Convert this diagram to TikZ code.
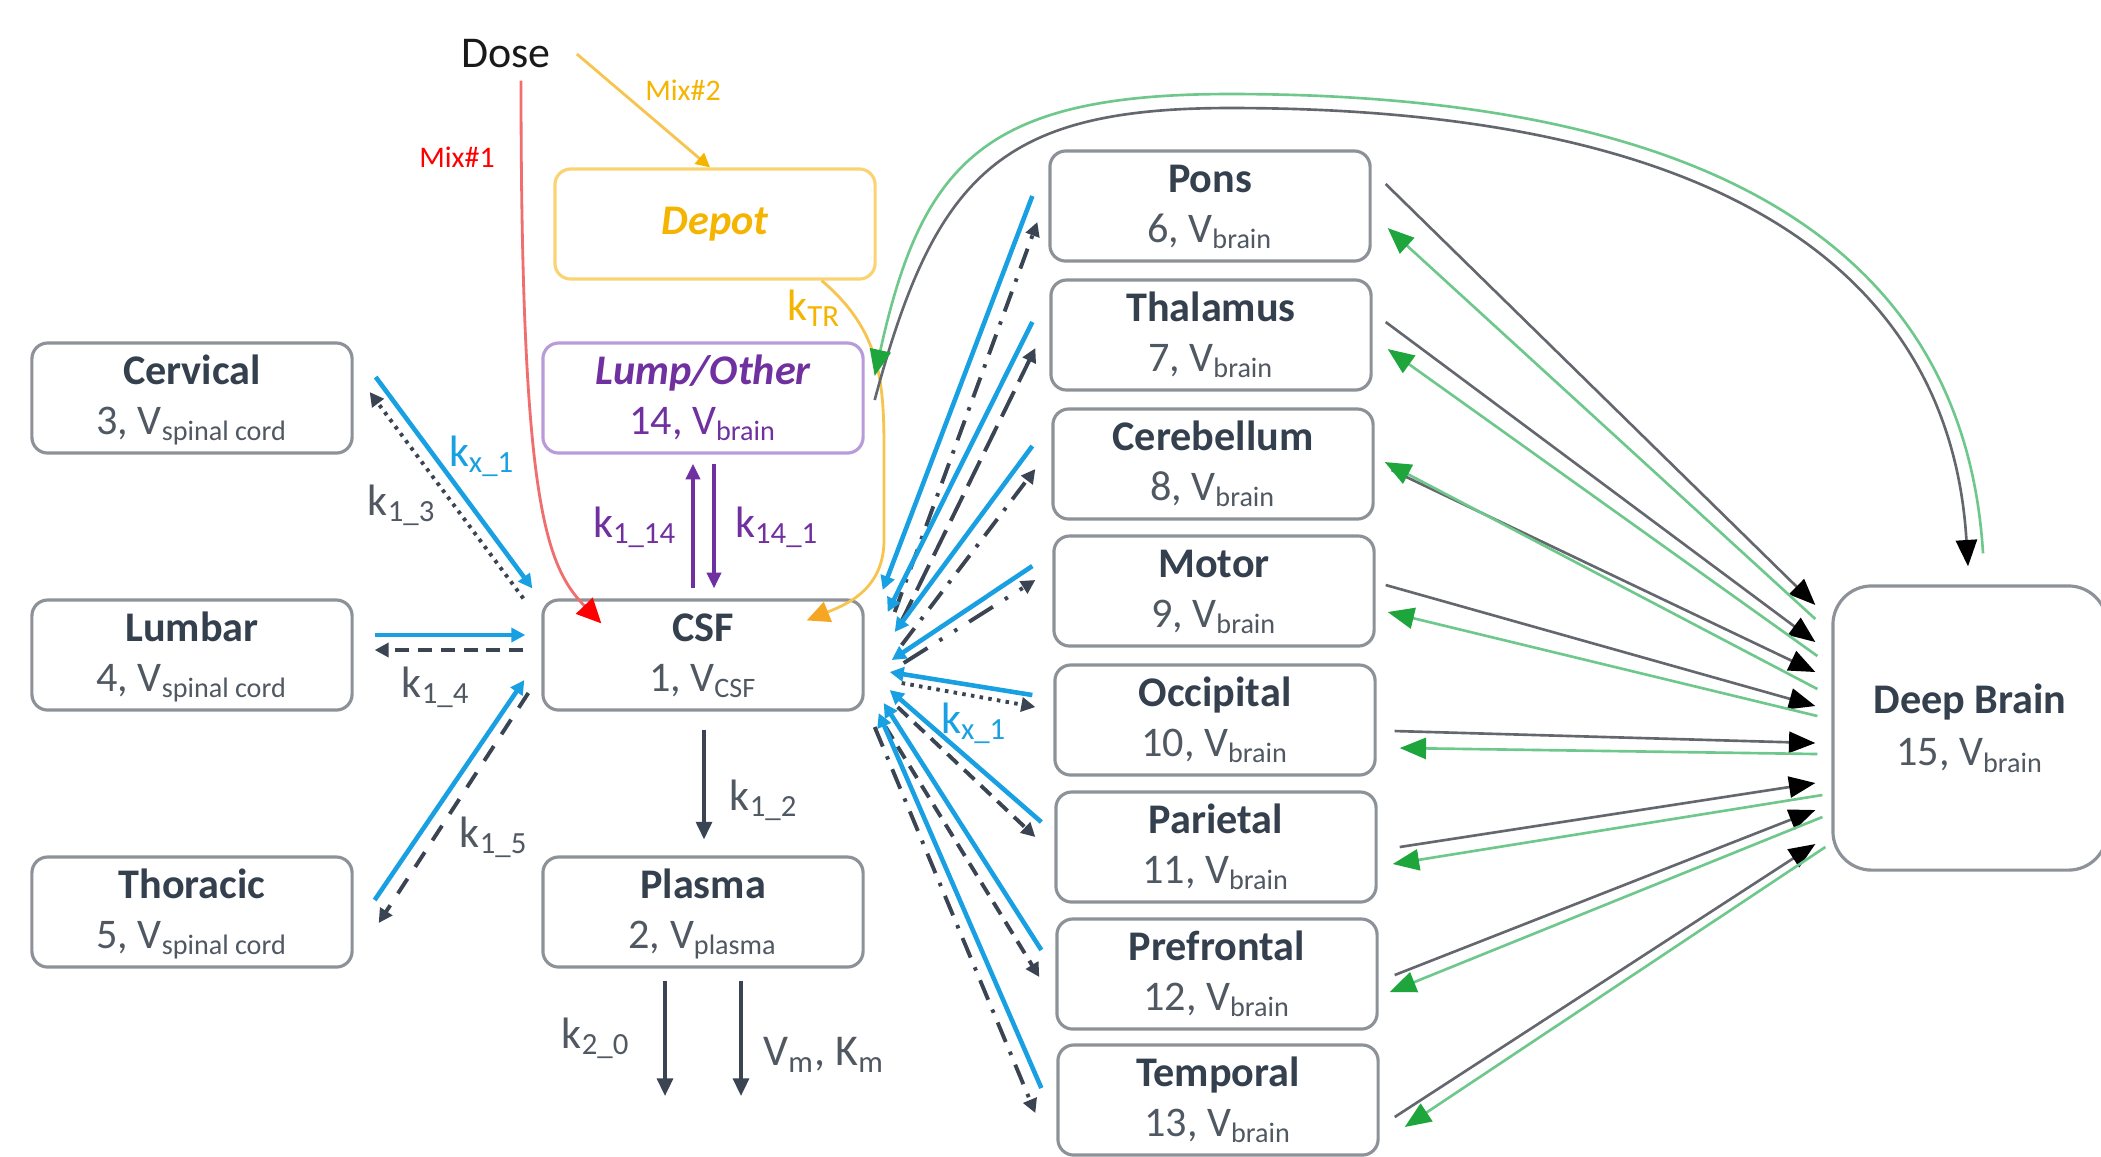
\documentclass[tikz,border=0pt]{standalone}
\usepackage{fontspec}
\setmainfont{Carlito}
\usetikzlibrary{arrows.meta,calc}

\definecolor{boxgray}{RGB}{140,146,152}
\definecolor{titlec}{RGB}{52,64,78}
\definecolor{subc}{RGB}{80,88,98}
\definecolor{kblue}{RGB}{24,160,226}
\definecolor{darkc}{RGB}{58,68,82}
\definecolor{lgray}{RGB}{100,104,110}
\definecolor{gline}{RGB}{110,200,140}
\definecolor{ghead}{RGB}{30,165,60}
\definecolor{purp}{RGB}{112,48,160}
\definecolor{purpb}{RGB}{185,155,218}
\definecolor{gold}{RGB}{245,180,0}
\definecolor{goldl}{RGB}{250,212,115}
\definecolor{goldc}{RGB}{247,196,80}
\definecolor{orangeh}{RGB}{245,166,35}
\definecolor{redl}{RGB}{240,110,110}

\newcommand\ssb[1]{\textsubscript{#1}}
\newcommand\toprl{\rule{0pt}{11.5pt}}
\newcommand\botrl{\rule[-5pt]{0pt}{5pt}}
\newcommand\twol[2]{\toprl{\bfseries\color{titlec}#1}\\#2\botrl}

\begin{document}
\begin{tikzpicture}[x=0.01cm,y=-0.01cm,
  cbox/.style={draw=boxgray,line width=0.9pt,rounded corners=4.5pt,
    minimum width=3.2cm,minimum height=1.1cm,align=center,inner sep=0pt,
    font=\fontsize{12}{14.2}\selectfont,text=subc},
  klab/.style={font=\fontsize{12.5}{14}\selectfont,text=subc,inner sep=1pt},
  mixlab/.style={font=\fontsize{8.5}{10}\selectfont,inner sep=1pt},
  bluear/.style={kblue,line width=1.3pt,-{Triangle[length=4pt,width=4pt]}},
  darkar/.style={darkc,line width=1.1pt,-{Triangle[length=4pt,width=4pt]}},
  kar/.style={darkc,line width=1pt,-{Triangle[length=5pt,width=4.5pt]}},
  purpar/.style={purp,line width=1.1pt,-{Triangle[length=4.5pt,width=4pt]}},
  grayar/.style={lgray,line width=0.75pt,-{Triangle[length=7.5pt,width=6pt,color=black]}},
  greenar/.style={gline,line width=0.75pt,-{Triangle[length=7.5pt,width=6pt,color=ghead]}},
  pdashdot/.style={dash pattern=on 6pt off 3pt on 1pt off 3pt},
  plongdash/.style={dash pattern=on 8pt off 3pt},
  pdashdotdot/.style={dash pattern=on 8pt off 4pt on 1pt off 4pt on 1pt off 4pt},
  pdotted/.style={dash pattern=on 1pt off 1.5pt},
  pdashed/.style={dash pattern=on 4pt off 2.5pt},
]
\useasboundingbox (0,0) rectangle (2101,1156);
\fill[white] (0,0) rectangle (2101,1156);
\clip (0,0) rectangle (2101,1156);

% ---- boxes ----
\node[cbox] (cerv) at (192,398) {\twol{Cervical}{3, V\ssb{spinal cord}}};
\node[cbox] (lumb) at (192,655) {\twol{Lumbar}{4, V\ssb{spinal cord}}};
\node[cbox] (thor) at (192,912) {\twol{Thoracic}{5, V\ssb{spinal cord}}};
\node[cbox,draw=purpb,text=purp] (lump) at (703,398)
  {\toprl{\bfseries\itshape Lump/Other}\\14, V\ssb{brain}\botrl};
\node[cbox,draw=goldl,text=gold] (depot) at (715,224) {\bfseries\itshape Depot};
\node[cbox] (csf) at (703,655) {\twol{CSF}{1, V\ssb{CSF}}};
\node[cbox] (plasma) at (703,912) {\twol{Plasma}{2, V\ssb{plasma}}};

\node[cbox] (pons) at (1210,206) {\twol{Pons}{6, V\ssb{brain}}};
\node[cbox] (thal) at (1211,335) {\twol{Thalamus}{7, V\ssb{brain}}};
\node[cbox] (cereb) at (1213,464) {\twol{Cerebellum}{8, V\ssb{brain}}};
\node[cbox] (motor) at (1214,591) {\twol{Motor}{9, V\ssb{brain}}};
\node[cbox] (occip) at (1215,720) {\twol{Occipital}{10, V\ssb{brain}}};
\node[cbox] (pariet) at (1216,847) {\twol{Parietal}{11, V\ssb{brain}}};
\node[cbox] (prefr) at (1217,974) {\twol{Prefrontal}{12, V\ssb{brain}}};
\node[cbox] (temp) at (1218,1100) {\twol{Temporal}{13, V\ssb{brain}}};
\node[cbox,minimum width=2.74cm,minimum height=2.84cm,rounded corners=11pt,
  font=\fontsize{12}{15}\selectfont] (deep) at (1970,728)
  {\twol{Deep Brain}{15, V\ssb{brain}}};

% ---- dose ----
\node[font=\fontsize{12.5}{14}\selectfont,inner sep=1pt,text=black!90] (dose) at (506,54) {Dose};
\node[mixlab,text=red] (mix1) at (457,157) {Mix\#1};
\node[mixlab,text=gold] (mix2) at (683,90) {Mix\#2};

\draw[redl,line width=0.8pt,-{Triangle[length=7pt,width=6.5pt,color=red]}]
  ($(dose.south)+(15,8)$) .. controls (521,500) and (545,565) .. ($(csf.north west)+(60,25)$);
\draw[goldc,line width=0.8pt,-{Triangle[length=4pt,width=4pt,color=gold]}]
  ($(dose.east)+(22,0)$) -- ($(depot.north)+(-5,0)$);
\draw[goldc,line width=0.8pt,-{Triangle[length=6.5pt,width=6pt,color=orangeh]}]
  ($(depot.south east)+(-55,0)$) .. controls (880,330) and (884,380) .. (884,450)
  -- (884,540) .. controls (884,590) and (845,605) .. ($(csf.north east)+(-58,22)$);
\node[klab,text=gold] (ktr) at (814,308) {k\ssb{TR}};

% ---- left side ----
\draw[bluear] ($(cerv.east)+(22,-21)$) -- ($(csf.north west)+(-9,-10)$);
\draw[darkar,pdotted] ($(csf.north west)+(-18,0)$) -- ($(cerv.east)+(16,-6)$);
\draw[bluear] ($(lumb.east)+(21,-20)$) -- ($(csf.west)+(-16,-20)$);
\draw[darkar,pdashed] ($(csf.west)+(-18,-5)$) -- ($(lumb.east)+(21,-5)$);
\draw[bluear] ($(thor.east)+(21,-12)$) -- ($(csf.west)+(-17,25)$);
\draw[darkar,dash pattern=on 5pt off 4pt] ($(csf.west)+(-13,38)$) -- ($(thor.east)+(25,11)$);

\node[klab,text=kblue] (kx1a) at (482,456) {k\ssb{x\_1}};
\node[klab] (k13) at (402,505) {k\ssb{1\_3}};
\node[klab] (k14) at (436,687) {k\ssb{1\_4}};
\node[klab] (k15) at (494,837) {k\ssb{1\_5}};

% ---- centre ----
\draw[purpar] ($(csf.north)+(-10,-10)$) -- ($(lump.south)+(-10,9)$);
\draw[purpar] ($(lump.south)+(11,9)$) -- ($(csf.north)+(11,-10)$);
\node[klab,text=purp] (k114) at (635,527) {k\ssb{1\_14}};
\node[klab,text=purp] (k141) at (777,527) {k\ssb{14\_1}};

\draw[kar] ($(csf.south)+(1,18)$) -- ($(plasma.north)+(1,-16)$);
\node[klab] (k12) at (764,800) {k\ssb{1\_2}};
\coordinate (out1) at (665,1096);
\coordinate (out2) at (741,1096);
\draw[kar] ($(plasma.south)+(-38,12)$) -- (out1);
\draw[kar] ($(plasma.south)+(38,12)$) -- (out2);
\node[klab] (k20) at (596,1038) {k\ssb{2\_0}};
\node[klab] (vmkm) at (824,1055) {V\ssb{m}, K\ssb{m}};

% ---- right fan ----
\draw[bluear] ($(pons.west)+(-16,-10)$) -- ($(csf.east)+(18,-65)$);
\draw[darkar,pdashdot] ($(csf.east)+(30,-43)$) -- ($(pons.west)+(-11,16)$);
\draw[bluear] ($(thal.west)+(-17,-13)$) -- ($(csf.east)+(23,-43)$);
\draw[darkar,plongdash] ($(csf.east)+(35,-30)$) -- ($(thal.west)+(-14,13)$);
\draw[bluear] ($(cereb.west)+(-19,-18)$) -- ($(csf.east)+(30,-23)$);
\draw[darkar,pdashdot] ($(csf.east)+(37,-10)$) -- ($(cereb.west)+(-16,5)$);
\draw[bluear] ($(motor.west)+(-20,-25)$) -- ($(csf.east)+(27,5)$);
\draw[darkar,pdashdotdot] ($(csf.east)+(39,8)$) -- ($(motor.west)+(-17,-11)$);
\draw[bluear] ($(occip.west)+(-21,-25)$) -- ($(csf.east)+(25,17)$);
\draw[darkar,pdotted] ($(csf.east)+(37,28)$) -- ($(occip.west)+(-18,-13)$);
\draw[bluear] ($(pariet.west)+(-13,-25)$) -- ($(csf.east)+(25,35)$);
\draw[darkar,pdashed] ($(csf.east)+(33,52)$) -- ($(pariet.west)+(-19,-10)$);
\draw[bluear] ($(prefr.west)+(-14,-24)$) -- ($(csf.east)+(19,48)$);
\draw[darkar,pdashed] ($(csf.east)+(21,72)$) -- ($(prefr.west)+(-16,3)$);
\draw[bluear] ($(temp.west)+(-15,-12)$) -- ($(csf.east)+(14,58)$);
\draw[darkar,pdashdot] ($(csf.east)+(10,72)$) -- ($(temp.west)+(-21,13)$);
\node[klab,text=kblue] (kx1b) at (974,723) {k\ssb{x\_1}};

% ---- to / from deep brain ----
\draw[grayar] ($(pons.east)+(14,-22)$) -- ($(deep.west)+(-16,-123)$);
\draw[greenar] ($(deep.west)+(-16,-109)$) -- ($(pons.east)+(16,22)$);
\draw[grayar] ($(thal.east)+(13,-13)$) -- ($(deep.west)+(-16,-86)$);
\draw[greenar] ($(deep.west)+(-14,-72)$) -- ($(thal.east)+(15,14)$);
\draw[grayar] ($(cereb.east)+(17,6)$) -- ($(deep.west)+(-16,-56)$);
\draw[greenar] ($(deep.west)+(-14,-39)$) -- ($(cereb.east)+(10,-2)$);
\draw[grayar] ($(motor.east)+(10,-6)$) -- ($(deep.west)+(-16,-22)$);
\draw[greenar] ($(deep.west)+(-14,-12)$) -- ($(motor.east)+(12,21)$);
\draw[grayar] ($(occip.east)+(18,11)$) -- ($(deep.west)+(-16,15)$);
\draw[greenar] ($(deep.west)+(-14,26)$) -- ($(occip.east)+(23,28)$);
\draw[grayar] ($(pariet.east)+(22,0)$) -- ($(deep.west)+(-16,55)$);
\draw[greenar] ($(deep.west)+(-9,67)$) -- ($(pariet.east)+(15,17)$);
\draw[grayar] ($(prefr.east)+(16,1)$) -- ($(deep.west)+(-16,82)$);
\draw[greenar] ($(deep.west)+(-9,89)$) -- ($(prefr.east)+(11,18)$);
\draw[grayar] ($(temp.east)+(15,17)$) -- ($(deep.west)+(-16,116)$);
\draw[greenar] ($(deep.west)+(-6,119)$) -- ($(temp.east)+(25,27)$);

\draw[grayar] ($(lump.east)+(10,2)$) .. controls (935,175) and (1000,108) .. (1230,108)
  .. controls (1720,108) and (1950,270) .. ($(deep.north)+(-2,-18)$);
\draw[greenar] ($(deep.north)+(13,-31)$) .. controls (1965,260) and (1730,94) .. (1230,94)
  .. controls (985,94) and (922,162) .. ($(lump.east)+(10,-22)$);
\end{tikzpicture}
\end{document}
